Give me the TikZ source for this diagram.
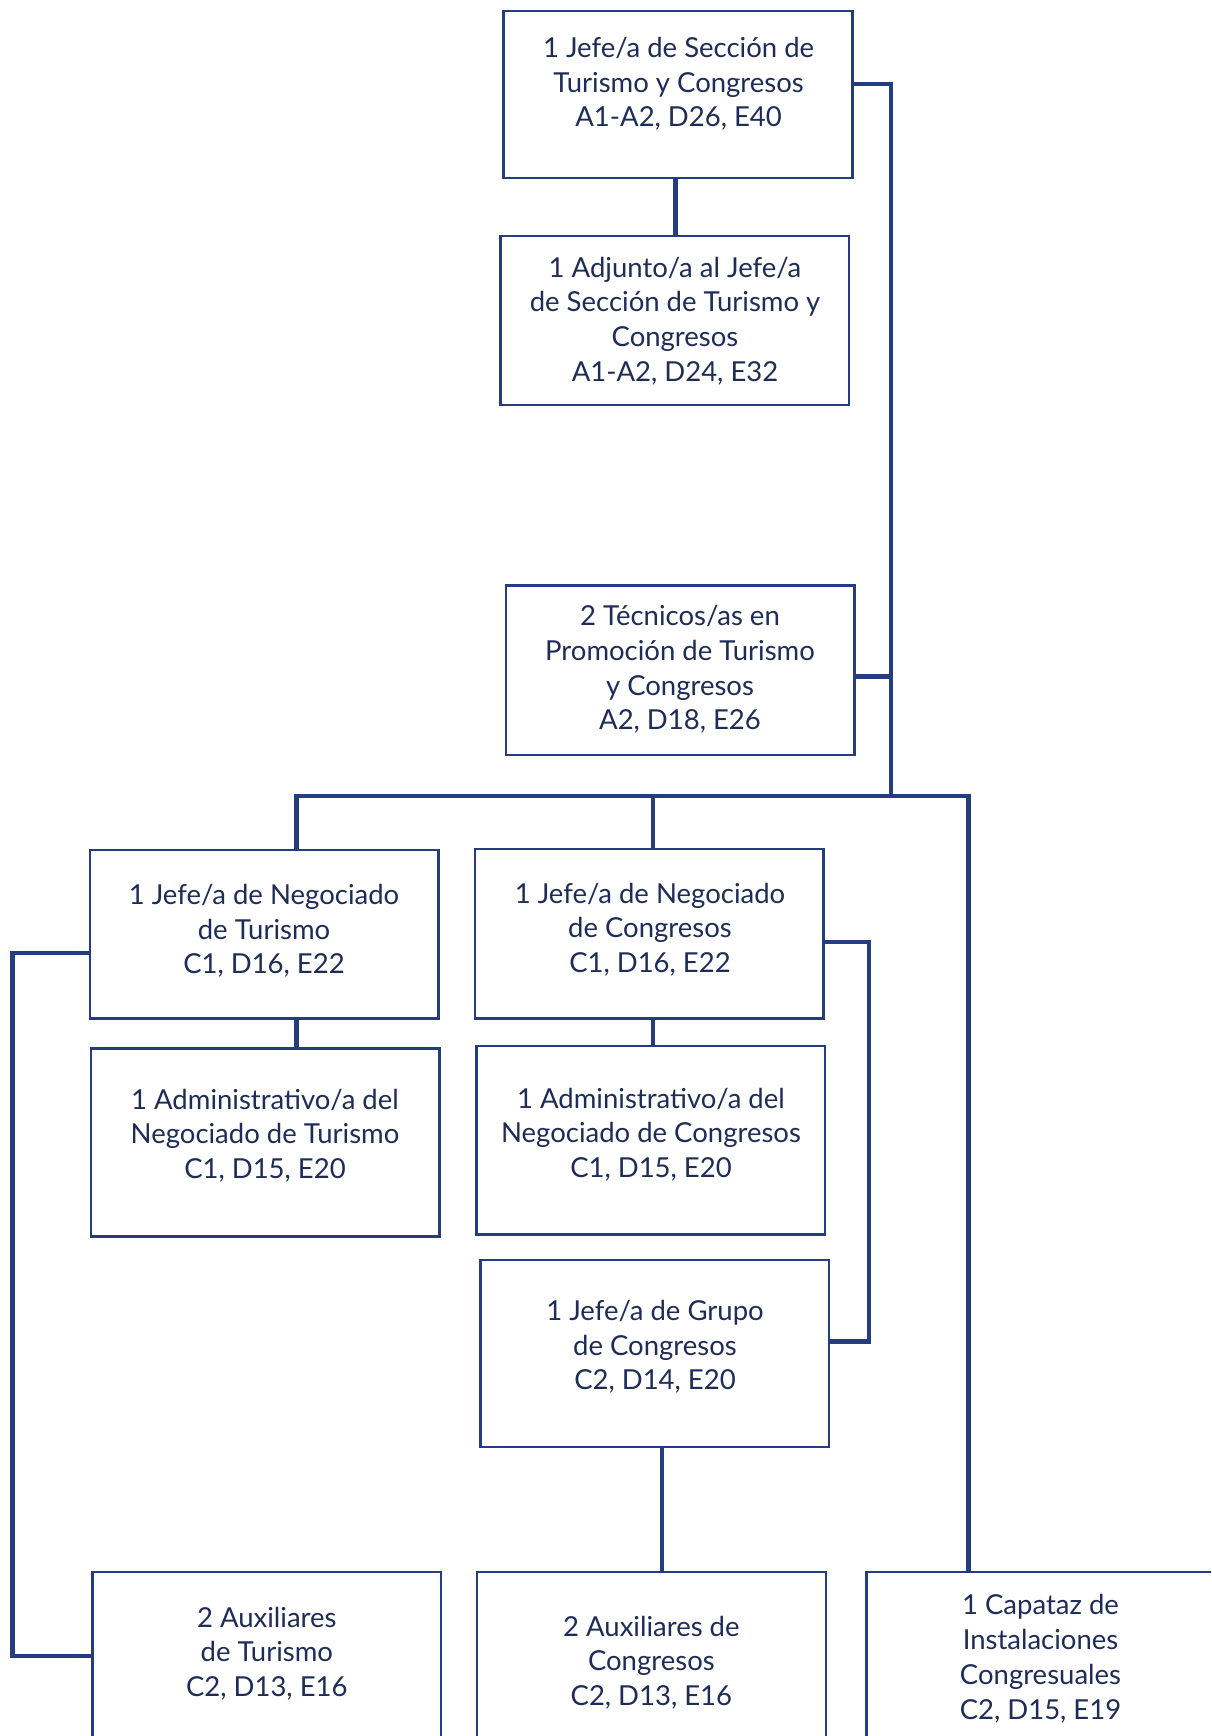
\documentclass[tikz,border=0pt]{standalone}
\usepackage{fontspec}
\setmainfont{Lato}
\definecolor{lineblue}{RGB}{37,60,128}
\definecolor{textblue}{RGB}{30,44,88}
\tikzset{
  boxnode/.style={draw=lineblue, line width=2.4pt, rectangle, inner sep=0pt, minimum width=348.7pt},
  txt/.style={text=textblue, align=center, font=\fontsize{27.5}{34.7}\selectfont, inner sep=0pt},
  conn/.style={draw=lineblue, line width=4.6pt, line cap=rect}
}
\begin{document}
\begin{tikzpicture}[x=1pt,y=-1pt]
\useasboundingbox (0,0) rectangle (1211,1736);
\fill[white] (0,0) rectangle (1211,1736);
\begin{scope}
\clip (0,0) rectangle (1211,1736);
% boxes
\node[boxnode, minimum height=167.1pt] (b1) at (678.0,94.65) {};
\node[boxnode, minimum height=169.3pt] (b2) at (674.65,320.45) {};
\node[boxnode, minimum height=169.4pt] (b3) at (680.25,670.3) {};
\node[boxnode, minimum height=168.3pt] (b4) at (264.05,934.25) {};
\node[boxnode, minimum height=169.4pt] (b6) at (649.25,933.7) {};
\node[boxnode, minimum height=188.2pt] (b5) at (265.15,1142.4) {};
\node[boxnode, minimum height=188.2pt] (b7) at (650.9,1140.2) {};
\node[boxnode, minimum height=187.1pt] (b8) at (654.75,1353.25) {};
\node[boxnode, minimum height=180pt] (b9) at (266.8,1661.9) {};
\node[boxnode, minimum height=180pt] (b10) at (651.4,1661.9) {};
\node[boxnode, minimum height=180pt] (b11) at (1041.0,1661.9) {};
% texts
\node[txt] (t1) at (678.6,84.0) {1 Jefe/a de Sección de\\Turismo y Congresos\\A1-A2, D26, E40};
\node[txt] (t2) at (675.0,321.0) {1 Adjunto/a al Jefe/a\\de Sección de Turismo y\\Congresos\\A1-A2, D24, E32};
\node[txt] (t3) at (680.0,669.6) {2 Técnicos/as en\\Promoción de Turismo\\y Congresos\\A2, D18, E26};
\node[txt] (t4) at (264.0,930.8) {1 Jefe/a de Negociado\\de Turismo\\C1, D16, E22};
\node[txt] (t5) at (265.0,1135.6) {1 Administrativo/a del\\Negociado de Turismo\\C1, D15, E20};
\node[txt] (t6) at (650.0,929.7) {1 Jefe/a de Negociado\\de Congresos\\C1, D16, E22};
\node[txt] (t7) at (651.0,1134.5) {1 Administrativo/a del\\Negociado de Congresos\\C1, D15, E20};
\node[txt] (t8) at (655.0,1347.0) {1 Jefe/a de Grupo\\de Congresos\\C2, D14, E20};
\node[txt] (t9) at (266.8,1653.7) {2 Auxiliares\\de Turismo\\C2, D13, E16};
\node[txt] (t10) at (651.4,1662.5) {2 Auxiliares de\\Congresos\\C2, D13, E16};
\node[txt] (t11) at (1040.5,1658.7) {1 Capataz de\\Instalaciones\\Congresuales\\C2, D15, E19};
% connector coordinates
\coordinate (ctop) at (891.1,84.1);
\coordinate (cbus) at (891.1,795.9);
\coordinate (busL) at (296.5,795.9);
\coordinate (busM) at (653.1,795.9);
\coordinate (busR) at (968.6,795.9);
\coordinate (congR) at (869.0,942.0);
\coordinate (grpR) at (869.0,1341.6);
\coordinate (loopT) at (12.2,953.1);
\coordinate (loopB) at (12.2,1656.0);
\coordinate (b1c) at (675.5,0);
\coordinate (b8c) at (662.0,0);
% connectors
\draw[conn] (b1.south -| b1c) -- (b2.north -| b1c);
\draw[conn] (b1.east |- ctop) -- (ctop) -- (cbus);
\draw[conn] (b3.east |- 0,676.3) -- (891.1,676.3);
\draw[conn] (busL) -- (busR);
\draw[conn] (busL) -- (b4.north -| busL);
\draw[conn] (b4.south -| busL) -- (b5.north -| busL);
\draw[conn] (busM) -- (b6.north -| busM);
\draw[conn] (b6.south -| busM) -- (b7.north -| busM);
\draw[conn] (busR) -- (b11.north -| busR);
\draw[conn] (b6.east |- congR) -- (congR) -- (grpR) -- (b8.east |- grpR);
\draw[conn] (b8.south -| b8c) -- (b10.north -| b8c);
\draw[conn] (b4.west |- loopT) -- (loopT) -- (loopB) -- (b9.west |- loopB);
\end{scope}
\end{tikzpicture}
\end{document}
